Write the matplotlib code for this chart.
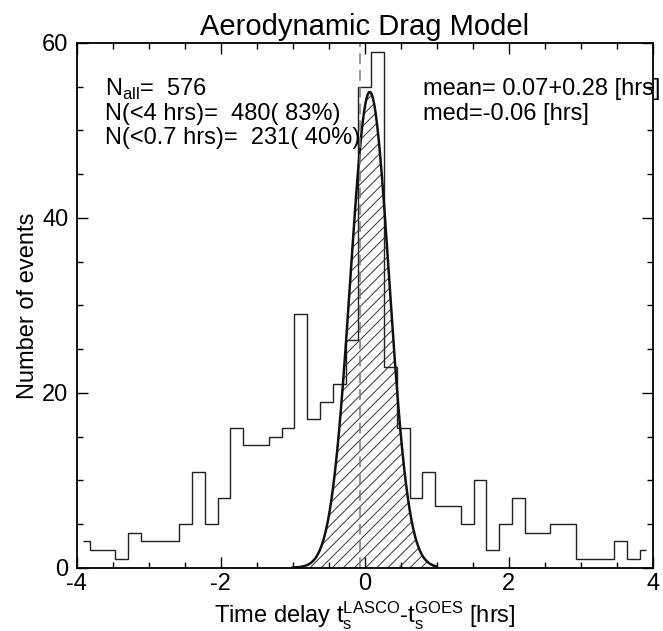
import numpy as np
import matplotlib.pyplot as plt
from matplotlib.ticker import MultipleLocator

plt.rcParams['font.family'] = ['Liberation Sans', 'DejaVu Sans']
plt.rcParams['mathtext.fontset'] = 'custom'
plt.rcParams['mathtext.rm'] = 'Liberation Sans'
plt.rcParams['axes.unicode_minus'] = False
plt.rcParams['hatch.linewidth'] = 0.7

# histogram of time delays, 45 bins over [-4, 4] hrs
counts = [3, 2, 2, 1, 4, 3, 3, 3, 5, 11, 5, 8, 16, 14, 14, 15, 16, 29, 17, 19,
          21, 26, 55, 59, 23, 16, 8, 11, 7, 7, 5, 10, 2, 5, 8, 4, 4, 5, 5, 1,
          1, 1, 3, 1, 2]
x_range = (-4.0, 4.0)

# gaussian fit
g_amp = 54.4
g_mean = 0.07
g_sigma = 0.27
g_range = (-1.0, 1.0)
median = -0.06

fig = plt.figure(figsize=(6.63, 6.31), dpi=100)
ax = fig.add_axes([0.1157, 0.1003, 0.8688, 0.8316])

# IDL psym=10 style: outer bins drawn only to bin centres
edges = np.linspace(x_range[0], x_range[1], len(counts) + 1)
w = edges[1] - edges[0]
edges[0] += w / 2
edges[-1] -= w / 2
ax.stairs(counts, edges, baseline=None, color='#222222', lw=1.0)

gx = np.linspace(g_range[0], g_range[1], 300)
gy = g_amp * np.exp(-(gx - g_mean) ** 2 / (2 * g_sigma ** 2))
ax.fill_between(gx, 0, gy, facecolor='none', edgecolor='#333333', hatch='///', lw=0)
ax.plot(gx, gy, color='#111111', lw=1.8)

ax.axvline(median, color='#777777', ls=(0, (7, 4)), lw=1.1)

ax.set_xlim(*x_range)
ax.set_ylim(0, 60)
ax.xaxis.set_major_locator(MultipleLocator(2))
ax.xaxis.set_minor_locator(MultipleLocator(0.5))
ax.yaxis.set_major_locator(MultipleLocator(20))
ax.yaxis.set_minor_locator(MultipleLocator(5))
ax.tick_params(which='both', direction='in', top=True, right=True, width=1.0)
ax.tick_params(which='major', length=8, labelsize=17, pad=6)
ax.tick_params(axis='x', which='major', pad=4)
ax.tick_params(which='minor', length=4)
for s in ax.spines.values():
    s.set_linewidth(1.3)

ax.set_title('Aerodynamic Drag Model', fontsize=21, pad=6)
ax.set_xlabel(r'Time delay t$_{\rm s}^{\rm LASCO}$-t$_{\rm s}^{\rm GOES}$ [hrs]',
              fontsize=17, labelpad=3)
ax.set_ylabel('Number of events', fontsize=17, labelpad=2)

fs = 17
ax.text(-3.61, 54.0, r'N$_{\rm all}$=  576', fontsize=fs, va='baseline')
ax.text(-3.61, 51.2, 'N(<4 hrs)=  480( 83%)', fontsize=fs, va='baseline')
ax.text(-3.61, 48.4, 'N(<0.7 hrs)=  231( 40%)', fontsize=fs, va='baseline')
ax.text(0.806, 54.0, 'mean= 0.07+0.28 [hrs]', fontsize=fs, va='baseline')
ax.text(0.806, 51.2, 'med=-0.06 [hrs]', fontsize=fs, va='baseline')

fig.savefig('out.png', dpi=100)
